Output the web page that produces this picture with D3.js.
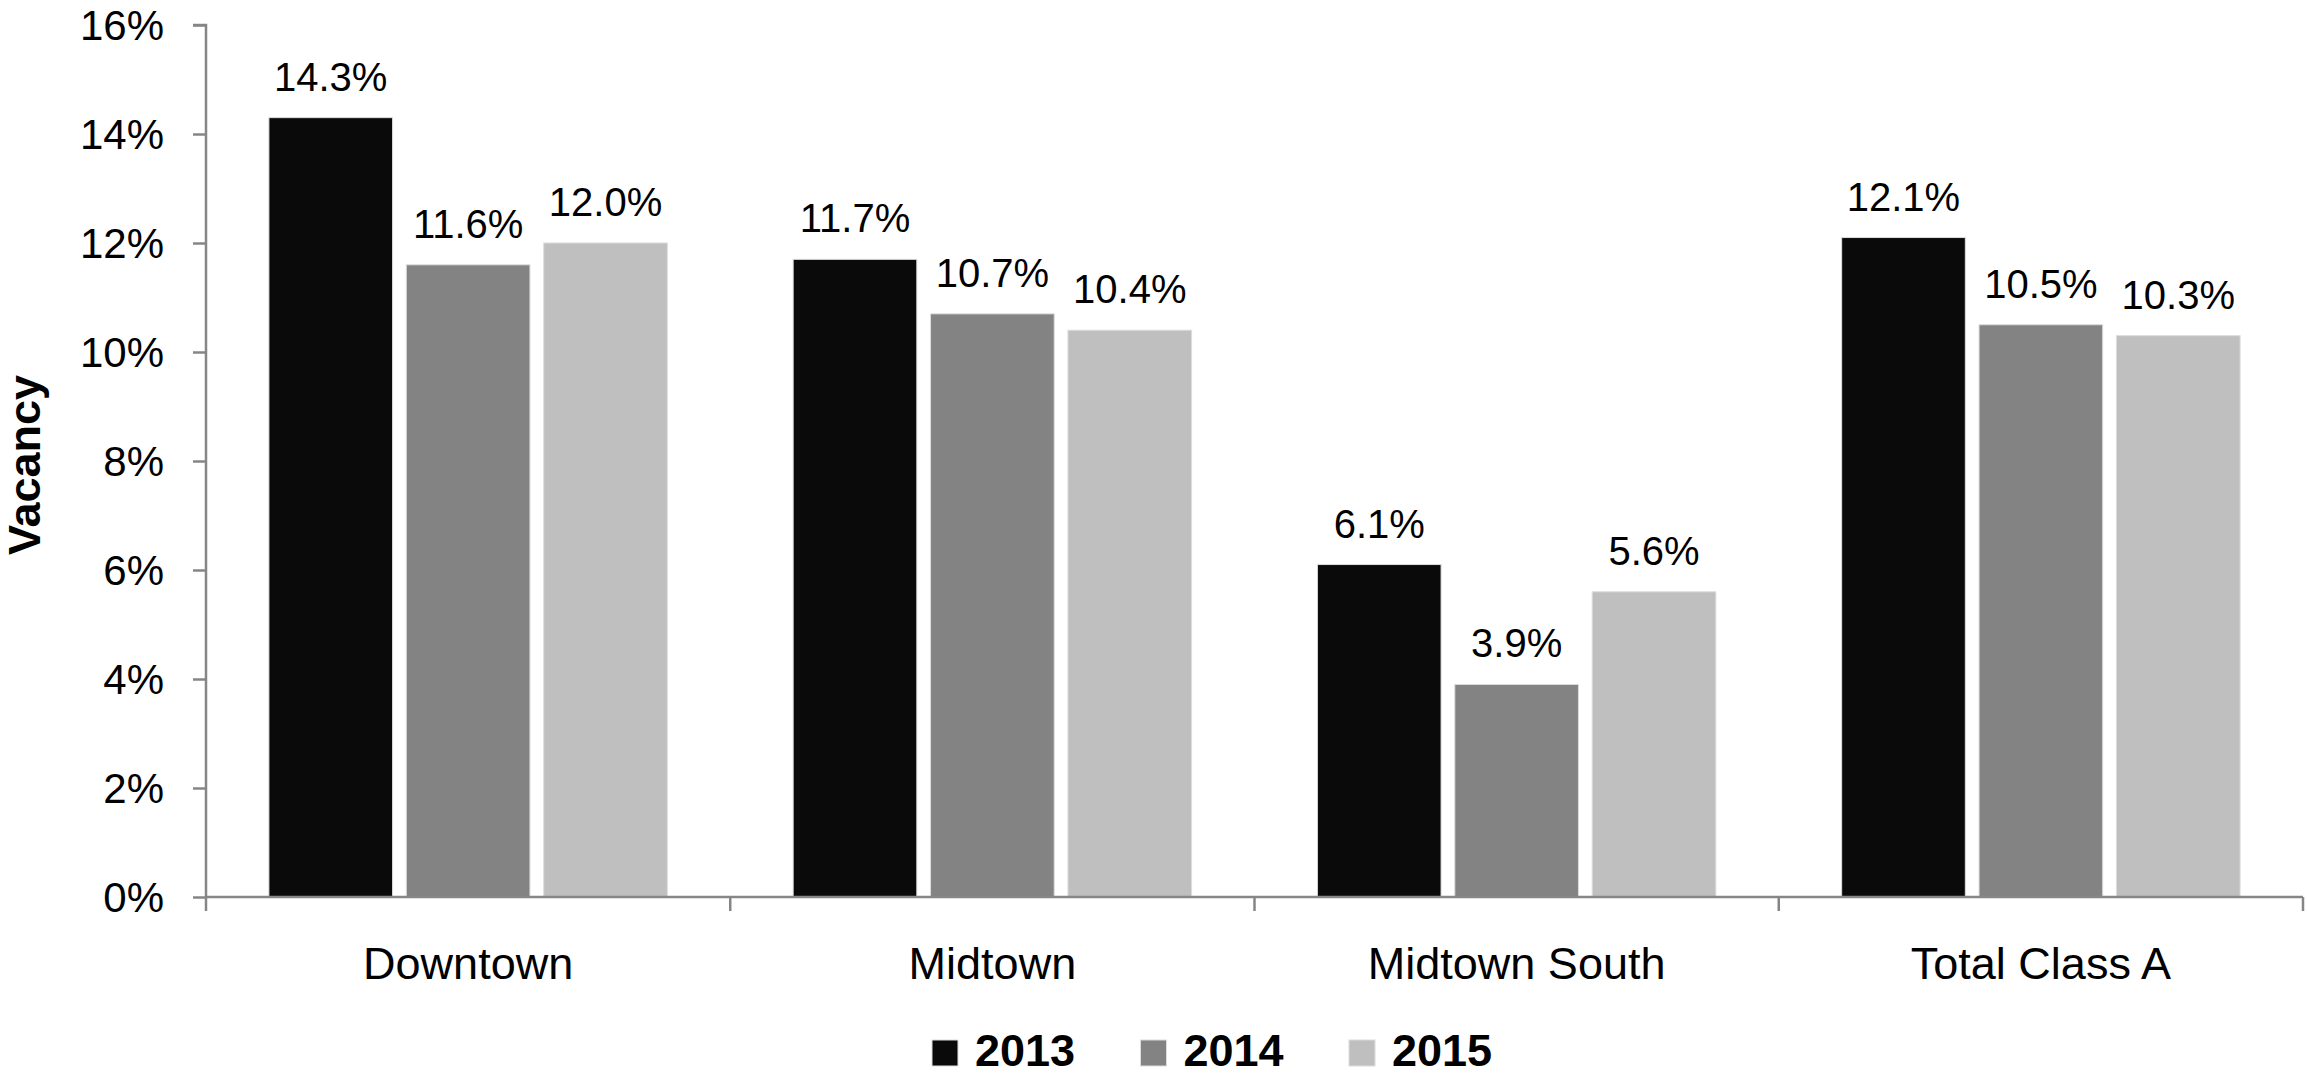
<!DOCTYPE html>
<html>
<head>
<meta charset="utf-8">
<script src="https://cdn.jsdelivr.net/npm/d3@7"></script>
<style>
  html, body { margin: 0; padding: 0; background: #fff; }
  svg { display: block; font-family: "Liberation Sans", Arial, sans-serif; }
</style>
</head>
<body>
<svg id="chart" width="2307" height="1087"></svg>
<script>
const categories = ["Downtown", "Midtown", "Midtown South", "Total Class A"];
const seriesNames = ["2013", "2014", "2015"];
const values2013 = [14.3, 11.7, 6.1, 12.1];
const values2014 = [11.6, 10.7, 3.9, 10.5];
const values2015 = [12.0, 10.4, 5.6, 10.3];
const yTicks = [0, 2, 4, 6, 8, 10, 12, 14, 16];
const colors = ["#0a0a0a", "#838383", "#bfbfbf"];

const seriesValues = [values2013, values2014, values2015];

(function () {
const svg = d3.select("#chart");
const plotLeft = 206, plotRight = 2303, plotTop = 25, plotBottom = 897;

const x0 = d3.scaleBand().domain(categories).range([plotLeft, plotRight])
  .paddingInner(0.24).paddingOuter(0.12);
const x1 = d3.scaleBand().domain(seriesNames).range([0, x0.bandwidth()])
  .paddingInner(0.1);
const y = d3.scaleLinear().domain([0, 16]).range([plotBottom, plotTop]);
const color = d3.scaleOrdinal().domain(seriesNames).range(colors);

// bars
const groups = svg.append("g").selectAll("g")
  .data(categories)
  .join("g")
  .attr("transform", d => `translate(${x0(d)},0)`);

groups.selectAll("rect")
  .data((c, ci) => seriesNames.map((s, si) => ({ s, v: seriesValues[si][ci] })))
  .join("rect")
  .attr("x", d => x1(d.s))
  .attr("y", d => y(d.v))
  .attr("width", x1.bandwidth())
  .attr("height", d => y(0) - y(d.v))
  .attr("fill", d => color(d.s))
  .attr("stroke", "#dcdcdc")
  .attr("stroke-width", 1);

groups.selectAll("text")
  .data((c, ci) => seriesNames.map((s, si) => ({ s, v: seriesValues[si][ci] })))
  .join("text")
  .attr("x", d => x1(d.s) + x1.bandwidth() / 2)
  .attr("y", d => y(d.v) - 27)
  .attr("text-anchor", "middle")
  .attr("font-size", 40)
  .attr("fill", "#000")
  .text(d => d.v.toFixed(1) + "%");

// y axis
const yAxis = d3.axisLeft(y).tickValues(yTicks).tickSize(13).tickPadding(29)
  .tickFormat(d => d + "%");
const gy = svg.append("g").attr("transform", `translate(${plotLeft},0)`).call(yAxis);
gy.select(".domain").attr("stroke", "#868686").attr("stroke-width", 2.5)
  .attr("d", `M-13,${plotTop}H0V${plotBottom}`);
gy.selectAll(".tick line").attr("stroke", "#868686").attr("stroke-width", 2.5);
gy.selectAll(".tick text").attr("font-size", 42).attr("fill", "#000")
  .attr("font-family", "'Liberation Sans', Arial, sans-serif").attr("dy", "0.35em");

// x axis
const xAxis = d3.axisBottom(x0).tickSize(0).tickPadding(0);
const gx = svg.append("g").attr("transform", `translate(0,${plotBottom})`).call(xAxis);
gx.select(".domain").attr("stroke", "#868686").attr("stroke-width", 2.5)
  .attr("d", `M${plotLeft},0H${plotRight}`);
gx.selectAll(".tick text").attr("font-size", 45).attr("fill", "#000")
  .attr("font-family", "'Liberation Sans', Arial, sans-serif")
  .attr("dy", null).attr("y", 82);
// boundary ticks between categories
const boundaries = categories.map((c, i) => i === 0 ? plotLeft : x0(c) - x0.step() * x0.paddingInner() / 2)
  .concat([plotRight]);
gx.selectAll("line.bound").data(boundaries).join("line").attr("class", "bound")
  .attr("x1", d => d).attr("x2", d => d).attr("y1", 0).attr("y2", 14)
  .attr("stroke", "#868686").attr("stroke-width", 2.5);

// y title
svg.append("text")
  .attr("transform", "translate(40,465) rotate(-90)")
  .attr("text-anchor", "middle")
  .attr("font-size", 45).attr("font-weight", "bold").attr("fill", "#000")
  .text("Vacancy");

// legend
const legend = svg.append("g").selectAll("g").data(seriesNames).join("g")
  .attr("transform", (d, i) => `translate(${932 + i * 208.5},1040)`);
legend.append("rect").attr("width", 26).attr("height", 26)
  .attr("fill", d => color(d)).attr("stroke", "#dcdcdc").attr("stroke-width", 1);
legend.append("text").attr("x", 43).attr("y", 26)
  .attr("font-size", 45).attr("font-weight", "bold").attr("fill", "#000")
  .text(d => d);
})();
</script>
</body>
</html>
